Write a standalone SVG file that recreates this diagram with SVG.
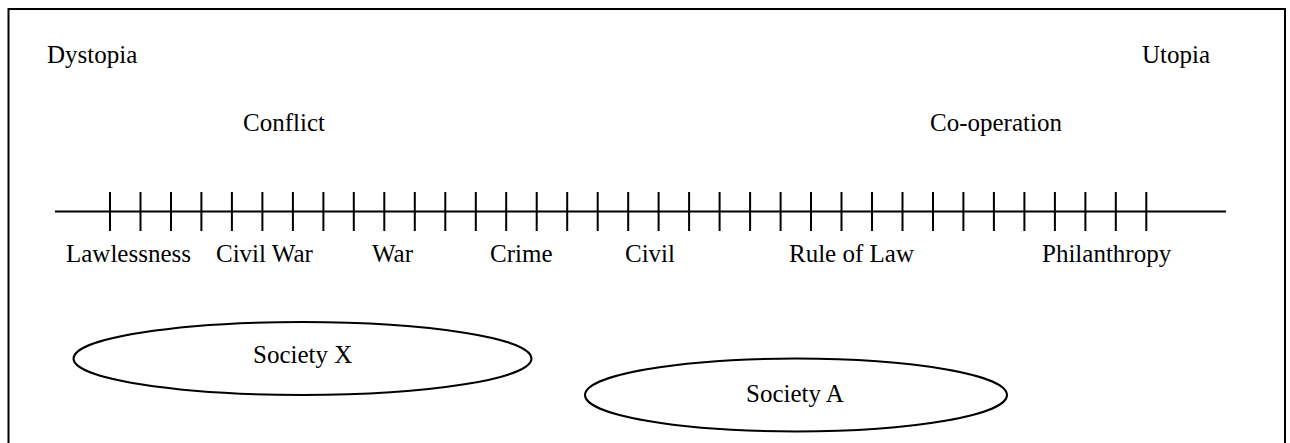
<svg xmlns="http://www.w3.org/2000/svg" width="1290" height="443" viewBox="0 0 1290 443">
<style>
text{font-family:"Liberation Serif","Times New Roman",serif;font-size:25px;fill:#000}
.ln{stroke:#000;stroke-width:2;fill:none}
.el{stroke:#000;stroke-width:2;fill:#fff}
</style>
<rect width="1290" height="443" fill="#fff"/>
<path class="ln" d="M8.5 443 V9 H1285 V443"/>
<g id="labels">
<text x="47" y="63">Dystopia</text>
<text x="1142" y="63">Utopia</text>
<text x="243" y="131">Conflict</text>
<text x="930" y="131">Co-operation</text>
</g>
<g id="connectors">
<line class="ln" x1="55" y1="211.5" x2="1226" y2="211.5"/>
<path class="ln" d="M110 192V231M140.5 192V231M171 192V231M201.4 192V231M231.9 192V231M262.4 192V231M292.9 192V231M323.4 192V231M353.8 192V231M384.3 192V231M414.8 192V231M445.3 192V231M475.8 192V231M506.2 192V231M536.7 192V231M567.2 192V231M597.7 192V231M628.2 192V231M658.6 192V231M689.1 192V231M719.6 192V231M750.1 192V231M780.6 192V231M811 192V231M841.5 192V231M872 192V231M902.5 192V231M933 192V231M963.4 192V231M993.9 192V231M1024.4 192V231M1054.9 192V231M1085.4 192V231M1115.8 192V231M1146.3 192V231"/>
</g>
<g id="scale-labels">
<text x="66" y="262">Lawlessness</text>
<text x="216" y="262">Civil War</text>
<text x="372" y="262">War</text>
<text x="490" y="262">Crime</text>
<text x="625" y="262">Civil</text>
<text x="789" y="262">Rule of Law</text>
<text x="1042" y="262">Philanthropy</text>
</g>
<g id="society-x">
<ellipse class="el" cx="302.5" cy="358.5" rx="229" ry="36.5"/>
<text x="253" y="363">Society X</text>
</g>
<g id="society-a">
<ellipse class="el" cx="796" cy="395" rx="211" ry="36.5"/>
<text x="746" y="402">Society A</text>
</g>
</svg>
